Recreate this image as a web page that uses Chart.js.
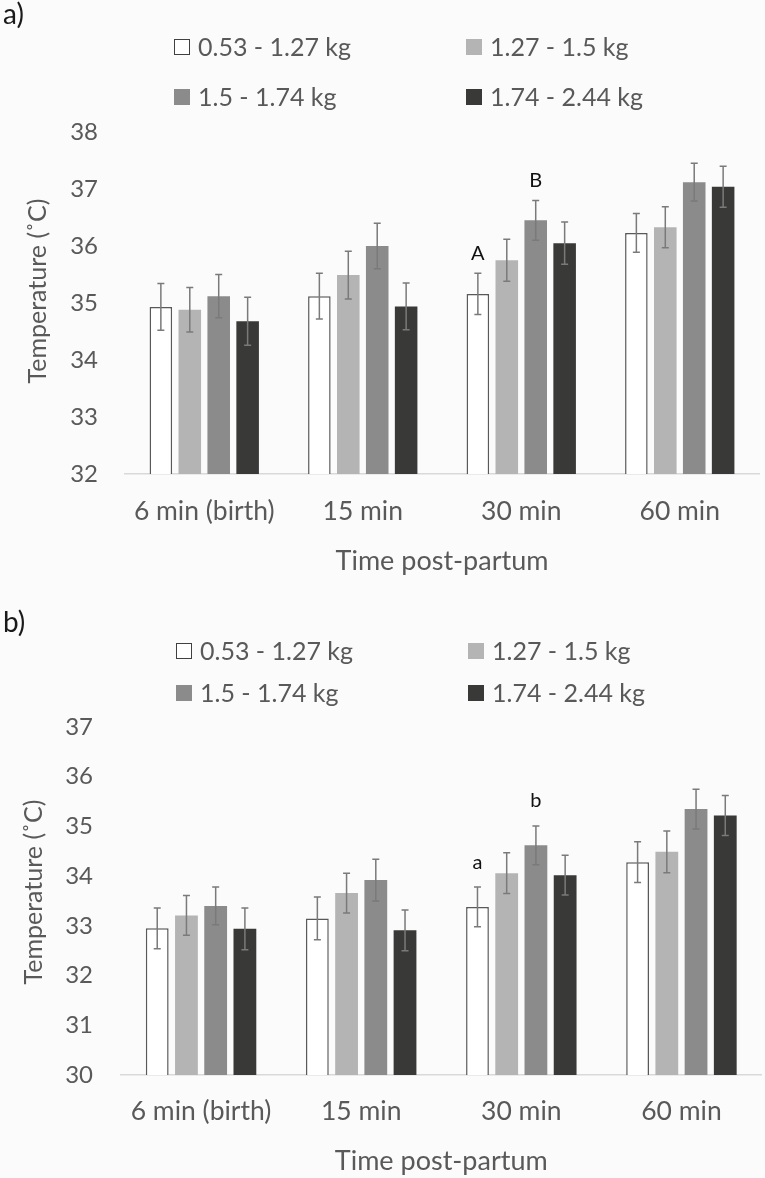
<!DOCTYPE html>
<html>
<head>
<meta charset="utf-8">
<script src="https://cdn.jsdelivr.net/npm/chart.js@4.4.0/dist/chart.umd.min.js"></script>
<style>
    html, body { margin: 0; padding: 0; background: #fbfbfb; }
    .panel { position: absolute; left: 0; width: 765px; }
    #panelA { top: 0; height: 590px; }
    #panelB { top: 590px; height: 588px; }
</style>
</head>
<body>
<div class="panel" id="panelA"><canvas id="chartA"></canvas></div>
<div class="panel" id="panelB"><canvas id="chartB"></canvas></div>
<script>
const timeLabels = ['6 min (birth)', '15 min', '30 min', '60 min'];
const weightGroups = ['0.53 - 1.27 kg', '1.27 - 1.5 kg', '1.5 - 1.74 kg', '1.74 - 2.44 kg'];
const yTitle = 'Temperature (˚C)';
const xTitle = 'Time post-partum';

// a) means and error bars per weight group
const a_g1 = [34.93, 35.12, 35.16, 36.23];
const a_g2 = [34.88, 35.49, 35.75, 36.33];
const a_g3 = [35.12, 36.00, 36.45, 37.12];
const a_g4 = [34.68, 34.94, 36.05, 37.04];
const a_err1 = [0.41, 0.40, 0.36, 0.34];
const a_err2 = [0.39, 0.42, 0.37, 0.36];
const a_err3 = [0.38, 0.40, 0.35, 0.33];
const a_err4 = [0.42, 0.41, 0.37, 0.36];
const a_yTicks = [32, 38];
const a_letters = [[0, 2, 'A'], [2, 2, 'B']];   // [group, time index, text]

// b)
const b_g1 = [32.95, 33.15, 33.38, 34.28];
const b_g2 = [33.21, 33.66, 34.06, 34.49];
const b_g3 = [33.40, 33.92, 34.62, 35.35];
const b_g4 = [32.94, 32.91, 34.02, 35.22];
const b_err1 = [0.41, 0.43, 0.40, 0.41];
const b_err2 = [0.40, 0.40, 0.41, 0.42];
const b_err3 = [0.38, 0.42, 0.39, 0.40];
const b_err4 = [0.42, 0.41, 0.40, 0.40];
const b_yTicks = [30, 37];
const b_letters = [[0, 2, 'a'], [2, 2, 'b']];

const fills = ['#ffffff', '#b4b4b4', '#8b8b8b', '#393937'];
const edges = ['#595959', '#b4b4b4', '#8b8b8b', '#393937'];
const textGrey = '#595959';
const FONT = 'Lato';

const decor = {
    id: 'decor',
    afterDatasetsDraw(chart, args, o) {
        const ctx = chart.ctx;
        const y = chart.scales.y;
        ctx.save();
        ctx.strokeStyle = '#7a7a7a';
        ctx.lineWidth = 1.5;
        chart.data.datasets.forEach((ds, i) => {
            chart.getDatasetMeta(i).data.forEach((bar, j) => {
                const hi = y.getPixelForValue(ds.data[j] + ds.err[j]);
                const lo = y.getPixelForValue(ds.data[j] - ds.err[j]);
                ctx.beginPath();
                ctx.moveTo(bar.x, hi); ctx.lineTo(bar.x, lo);
                ctx.moveTo(bar.x - 3.5, hi); ctx.lineTo(bar.x + 3.5, hi);
                ctx.moveTo(bar.x - 3.5, lo); ctx.lineTo(bar.x + 3.5, lo);
                ctx.stroke();
            });
        });
        // significance letters
        ctx.fillStyle = '#111';
        ctx.font = '20px ' + FONT;
        ctx.textAlign = 'center';
        ctx.textBaseline = 'bottom';
        o.letters.forEach(([g, j, t]) => {
            const ds = chart.data.datasets[g];
            const bar = chart.getDatasetMeta(g).data[j];
            ctx.fillText(t, bar.x, y.getPixelForValue(ds.data[j] + ds.err[j]) - o.letterGap);
        });
        ctx.restore();
    },
    afterDraw(chart, args, o) {
        const ctx = chart.ctx;
        ctx.save();
        ctx.fillStyle = '#1a1a1a';
        ctx.font = '28px ' + FONT;
        ctx.textBaseline = 'middle';
        ctx.fillText(o.tag, 3, o.tagY);
        // legend, two columns
        ctx.font = '25px ' + FONT;
        chart.data.datasets.forEach((ds, i) => {
            const cx = o.legendX[i % 2];
            const cy = o.legendY[Math.floor(i / 2)];
            ctx.fillStyle = ds.backgroundColor;
            ctx.fillRect(cx, cy - 8, 16, 16);
            if (i === 0) {
                ctx.strokeStyle = '#404040';
                ctx.lineWidth = 1;
                ctx.strokeRect(cx + 0.5, cy - 7.5, 15, 15);
            }
            ctx.fillStyle = textGrey;
            ctx.fillText(ds.label, cx + 24, cy + 1);
        });
        // y axis title
        ctx.translate(o.yTitleX, o.yTitleY);
        ctx.rotate(-Math.PI / 2);
        ctx.textAlign = 'center';
        ctx.fillText(yTitle, 0, 0);
        ctx.restore();
    }
};

function makeDatasets(series, errs) {
    return series.map((s, i) => ({
        label: weightGroups[i],
        data: s,
        err: errs[i],
        backgroundColor: fills[i],
        borderColor: edges[i],
        borderWidth: i === 0 ? 1.5 : 0,
        categoryPercentage: 0.73,
        barPercentage: 0.78
    }));
}

function makeOptions(lay) {
    return {
        responsive: true,
        maintainAspectRatio: false,
        animation: false,
        layout: { padding: { top: lay.top, right: lay.right, bottom: 0, left: 0 } },
        plugins: {
            legend: { display: false },
            tooltip: { enabled: false },
            decor: lay.decor
        },
        scales: {
            x: {
                grid: { display: false, drawTicks: false },
                border: { display: true, color: '#d9d9d9', width: 1.5 },
                ticks: { color: textGrey, font: { family: FONT, size: 26.5 }, padding: lay.xTickPad },
                title: { display: true, text: xTitle, color: textGrey,
                         font: { family: FONT, size: 27 }, padding: { top: 0, bottom: lay.xTitlePad } },
                afterFit: (s) => { s.height = lay.xHeight; }
            },
            y: {
                min: lay.ticks[0],
                max: lay.ticks[1],
                grid: { display: false, drawTicks: false },
                border: { display: false },
                ticks: { stepSize: 1, color: textGrey, font: { family: FONT, size: 24 }, padding: lay.yTickPad },
                title: { display: false },
                afterFit: (s) => { s.width = lay.yWidth; }
            }
        }
    };
}

const chartA = new Chart(document.getElementById('chartA'), {
    type: 'bar',
    data: {
        labels: timeLabels,
        datasets: makeDatasets([a_g1, a_g2, a_g3, a_g4], [a_err1, a_err2, a_err3, a_err4])
    },
    options: makeOptions({
        top: 132, right: 6, xHeight: 116, yWidth: 125,
        xTickPad: 21.8, xTitlePad: 12.1, yTickPad: 27,
        ticks: a_yTicks,
        decor: { tag: 'a)', tagY: 15, legendX: [174, 466], legendY: [47, 97],
                 letters: a_letters, letterGap: 10, yTitleX: 38, yTitleY: 291 }
    }),
    plugins: [decor]
});

const chartB = new Chart(document.getElementById('chartB'), {
    type: 'bar',
    data: {
        labels: timeLabels,
        datasets: makeDatasets([b_g1, b_g2, b_g3, b_g4], [b_err1, b_err2, b_err3, b_err4])
    },
    options: makeOptions({
        top: 137, right: 3.5, xHeight: 103, yWidth: 121,
        xTickPad: 20.8, xTitlePad: 0.1, yTickPad: 28,
        ticks: b_yTicks,
        decor: { tag: 'b)', tagY: 33, legendX: [176, 468], legendY: [61, 103],
                 letters: b_letters, letterGap: 15, yTitleX: 34, yTitleY: 302 }
    }),
    plugins: [decor]
});
</script>
</body>
</html>
